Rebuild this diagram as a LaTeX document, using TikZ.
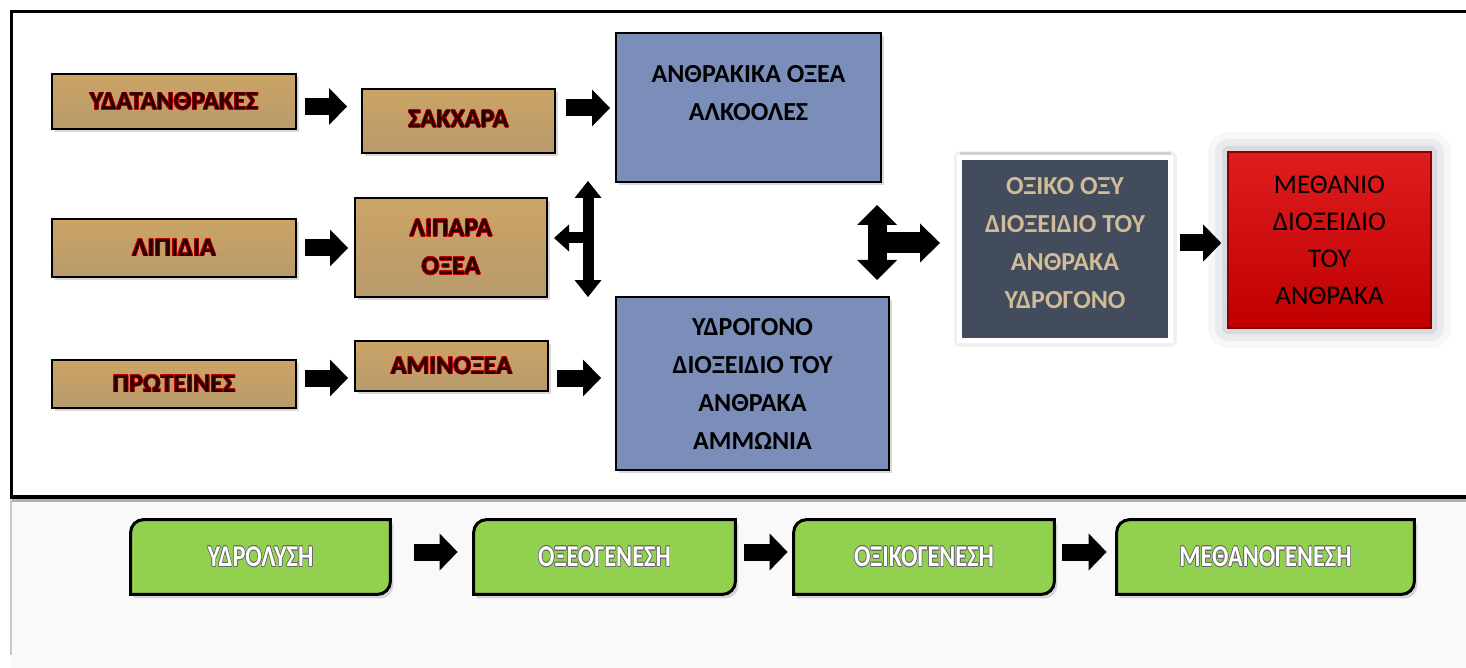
\documentclass[tikz,border=0pt]{standalone}
\usepackage{fontspec}
\setmainfont{Carlito}
\usepackage{graphicx}
\usepackage{contour}
\contourlength{0.3pt}
\usetikzlibrary{arrows.meta,shadows,backgrounds,calc}

\definecolor{tantop}{RGB}{203,164,102}
\definecolor{tanbot}{RGB}{184,154,108}
\definecolor{bluefill}{RGB}{123,142,186}
\definecolor{slate}{RGB}{66,76,92}
\definecolor{goldtxt}{RGB}{208,188,150}
\definecolor{redtop}{RGB}{222,30,30}
\definecolor{redbot}{RGB}{192,0,0}
\definecolor{redline}{RGB}{140,0,0}
\definecolor{grn}{RGB}{146,208,80}
\definecolor{maroontxt}{RGB}{45,0,0}
\definecolor{glowred}{RGB}{190,0,0}
\definecolor{glowgray}{RGB}{95,105,125}

\newcommand{\tantxt}[1]{\contour{glowred}{#1}}
\newcommand{\grntxt}[1]{\scalebox{0.9}[1.12]{\contour{black!60}{#1}}}

\tikzset{
  boxfont/.style={font=\bfseries\fontsize{13}{19}\selectfont},
  tanbox/.style={draw=black, line width=1pt, top color=tantop, bottom color=tanbot,
    text=maroontxt, boxfont, align=center, inner sep=0pt,
    drop shadow={opacity=0.3, shadow xshift=1.5pt, shadow yshift=-1.5pt}},
  bluebox/.style={draw=black, line width=1pt, fill=bluefill, text=black,
    boxfont, align=center, inner sep=0pt,
    drop shadow={opacity=0.3, shadow xshift=1.5pt, shadow yshift=-1.5pt}},
  slatebox/.style={draw=white, line width=2.5pt, fill=slate, text=goldtxt,
    boxfont, align=center, inner sep=0pt,
    drop shadow={opacity=0.25, shadow xshift=0pt, shadow yshift=2.5pt},
    preaction={draw=black, draw opacity=0.06, line width=6pt, line join=round}},
  redbox/.style={draw=redline, line width=0.8pt, top color=redtop, bottom color=redbot,
    text=black, font=\fontsize{13.5}{18.5}\selectfont, align=center, inner sep=0pt,
    preaction={draw=glowgray, draw opacity=0.05, line width=20pt, line join=round},
    preaction={draw=glowgray, draw opacity=0.08, line width=13pt, line join=round},
    preaction={draw=glowgray, draw opacity=0.12, line width=6pt, line join=round}},
  grnlabel/.style={text=white, font=\bfseries\fontsize{13.5}{16}\selectfont,
    inner sep=0pt, minimum height=37pt},
  barrow/.style={line width=8.5pt, black, -{Triangle[width=18.5pt,length=9pt,line width=0pt]}},
}

\begin{document}
\begin{tikzpicture}[x=0.5pt, y=-0.5pt]
\useasboundingbox (0,0) rectangle (1466,668);

\begin{scope}[on background layer]
  \fill[white] (0,0) rectangle (1466,668);
  % lower band
  \fill[black!2.5] (11,500) rectangle (1466,668);
  \draw[black!22, line width=1pt] (11,500) -- (11,655);
  % frame
  \draw[black!30, line width=1.5pt] (12,500) -- (1480,500);
  \draw[black, line width=1.6pt] (11.5,11.5) rectangle (1480,497);
\end{scope}

% first column
\node[tanbox, minimum width=122pt, minimum height=27.5pt] (t1) at (174,101.5) {\tantxt{ΥΔΑΤΑΝΘΡΑΚΕΣ}};
\node[tanbox, minimum width=122pt, minimum height=29pt] (t3) at (174,248) {\tantxt{ΛΙΠΙΔΙΑ}};
\node[tanbox, minimum width=122pt, minimum height=24pt] (t5) at (174,384) {\tantxt{ΠΡΩΤΕΙΝΕΣ}};

% second column
\node[tanbox, minimum width=96.5pt, minimum height=32pt] (t2) at (458.5,121) {\raisebox{2pt}{\tantxt{ΣΑΚΧΑΡΑ}}};
\node[tanbox, minimum width=96pt, minimum height=49.5pt] (t4) at (451,247.5) {\tantxt{ΛΙΠΑΡΑ}\\\tantxt{ΟΞΕΑ}};
\node[tanbox, minimum width=96.5pt, minimum height=25pt] (t6) at (451.5,366) {\tantxt{ΑΜΙΝΟΞΕΑ}};

% blue boxes
\node[bluebox, minimum width=132.5pt, minimum height=74.5pt,
  label={[boxfont, align=center, yshift=7pt]center:{ΑΝΘΡΑΚΙΚΑ ΟΞΕΑ\\ΑΛΚΟΟΛΕΣ}}] (b1) at (748.5,107.5) {};
\node[bluebox, minimum width=136.5pt, minimum height=86.5pt] (b2) at (752.5,383.5)
  {ΥΔΡΟΓΟΝΟ\\ΔΙΟΞΕΙΔΙΟ ΤΟΥ\\ΑΝΘΡΑΚΑ\\ΑΜΜΩΝΙΑ};

% slate and red boxes
\node[slatebox, minimum width=105.5pt, minimum height=91.5pt] (d) at (1065,249)
  {ΟΞΙΚΟ ΟΞΥ\\ΔΙΟΞΕΙΔΙΟ ΤΟΥ\\ΑΝΘΡΑΚΑ\\ΥΔΡΟΓΟΝΟ\\[-12.5pt]\mbox{}};
\node[redbox, minimum width=101.5pt, minimum height=88pt] (r) at (1329.5,240)
  {ΜΕΘΑΝΙΟ\\ΔΙΟΞΕΙΔΙΟ\\ΤΟΥ\\ΑΝΘΡΑΚΑ};

% green stage labels
\node[grnlabel, minimum width=129.5pt] (g1) at (260.5,557) {\grntxt{ΥΔΡΟΛΥΣΗ}};
\node[grnlabel, minimum width=130.5pt] (g2) at (604.5,557) {\grntxt{ΟΞΕΟΓΕΝΕΣΗ}};
\node[grnlabel, minimum width=130pt]   (g3) at (924,557)   {\grntxt{ΟΞΙΚΟΓΕΝΕΣΗ}};
\node[grnlabel, minimum width=148.5pt] (g4) at (1265.5,557) {\grntxt{ΜΕΘΑΝΟΓΕΝΕΣΗ}};

\begin{scope}[on background layer]
  \foreach \g in {g1,g2,g3,g4}{
    \path[draw=black, line width=1.5pt, fill=grn,
      drop shadow={opacity=0.3, shadow xshift=1.5pt, shadow yshift=-2pt}]
      (\g.south west) -- ([yshift=-6.5pt]\g.north west)
      to[out=90,in=180] ([xshift=6.5pt]\g.north west)
      -- (\g.north east) -- ([yshift=6.5pt]\g.south east)
      to[out=-90,in=0] ([xshift=-6.5pt]\g.south east) -- cycle;
  }
\end{scope}

% levels for block arrows
\coordinate (ya) at (0,106.5);
\coordinate (yb) at (0,108);
\coordinate (yc) at (0,248);
\coordinate (yd) at (0,378);
\coordinate (ye) at (0,243);
\coordinate (yg) at (0,552);

\draw[barrow] ($(t1.east |- ya)+(4pt,0pt)$) -- ($(t2.west |- ya)+(-7pt,0pt)$);
\draw[barrow] ($(t2.east |- yb)+(5pt,0pt)$) -- ($(b1.west |- yb)+(-2.5pt,0pt)$);
\draw[barrow] ($(t3.east |- yc)+(4pt,0pt)$) -- ($(t4.west |- yc)+(-3pt,0pt)$);
\draw[barrow] ($(t5.east |- yd)+(4pt,0pt)$) -- ($(t6.west |- yd)+(-3pt,0pt)$);
\draw[barrow] ($(t6.east |- yd)+(4pt,0pt)$) -- ($(b2.west |- yd)+(-7pt,0pt)$);
\draw[barrow] ($(d.east |- ye)+(3.5pt,0pt)$) -- ($(r.west |- ye)+(-3pt,0pt)$);

\draw[barrow] ($(g1.east |- yg)+(12pt,0pt)$) -- ($(g2.west |- yg)+(-8pt,0pt)$);
\draw[barrow] ($(g2.east |- yg)+(4.5pt,0pt)$) -- ($(g3.west |- yg)+(-3pt,0pt)$);
\draw[barrow] ($(g3.east |- yg)+(4pt,0pt)$) -- ($(g4.west |- yg)+(-5pt,0pt)$);

% T-shaped arrow between the two blue boxes
\coordinate (tj) at (588,238);
\draw[line width=5.5pt, {Triangle[width=13.5pt,length=8.5pt,line width=0pt]}-{Triangle[width=13.5pt,length=8.5pt,line width=0pt]}]
  ($(tj |- b1.south)+(0pt,1pt)$) -- ($(tj |- b2.north)+(0pt,-0.5pt)$);
\draw[line width=5.5pt, -{Triangle[width=13.5pt,length=7.5pt,line width=0pt]}]
  ($(tj)+(2.75pt,0pt)$) -- ($(tj -| t4.east)+(3pt,0pt)$);

% cross-shaped arrow towards the slate box
\coordinate (cj) at (877,243);
\draw[line width=9.5pt, {Triangle[width=20pt,length=10pt,line width=0pt]}-{Triangle[width=20pt,length=10pt,line width=0pt]}]
  ($(cj)+(0pt,19pt)$) -- ($(cj)+(0pt,-18.5pt)$);
\draw[line width=10.5pt, -{Triangle[width=19.5pt,length=10pt,line width=0pt]}]
  (cj) -- ($(d.west |- cj)+(-8.5pt,0pt)$);

\end{tikzpicture}
\end{document}
